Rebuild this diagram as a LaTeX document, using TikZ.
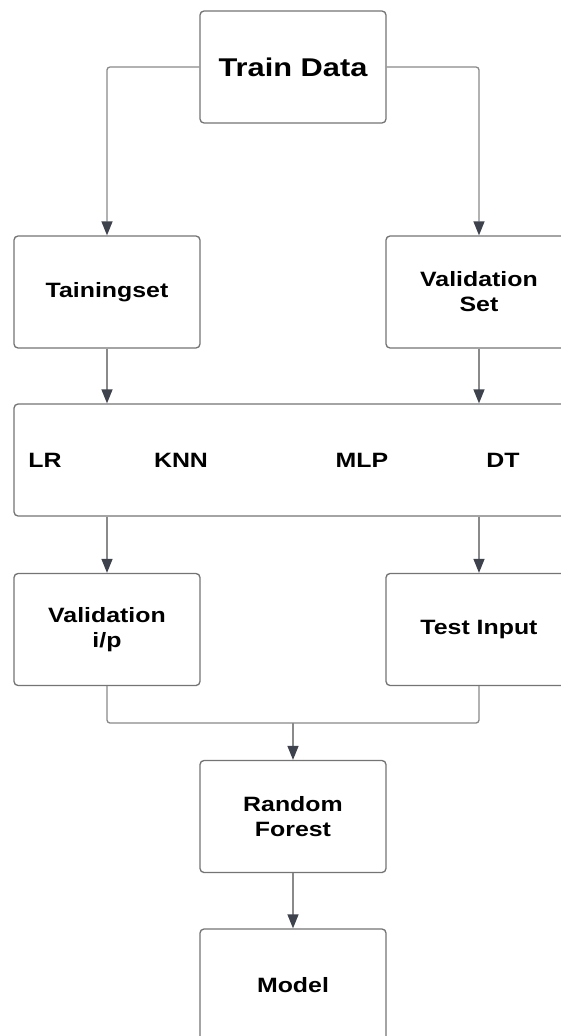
\documentclass[tikz,border=0pt]{standalone}
\usepackage{fontspec}
\setmainfont{Liberation Sans}[FakeStretch=1.2]
\usetikzlibrary{arrows.meta,positioning}
\definecolor{edgegray}{HTML}{8A8A8A}
\definecolor{boxgray}{HTML}{747474}
\definecolor{tipgray}{HTML}{3E424C}

\begin{document}
\begin{tikzpicture}[x=0.02cm,y=-0.02cm,
    box/.style={draw=boxgray,line width=0.75pt,rounded corners=0.08cm,minimum width=3.72cm,minimum height=2.24cm,align=center,font=\fontsize{11.8}{14.2}\selectfont\bfseries},
    lbl/.style={font=\fontsize{11.8}{14}\selectfont\bfseries},
    pipe/.style={draw=edgegray,line width=0.75pt,rounded corners=0.06cm},
    link/.style={pipe,-{Triangle[width=0.22cm,length=0.28cm,color=tipgray]}}]
        \clip (0,0) rectangle (561,1036);
        \fill[white] (0,0) rectangle (561,1036);

        \coordinate (A) at (293,67);
        \coordinate (B) at (107,292);
        \coordinate (C) at (479,292);
        \coordinate (D) at (307,460);
        \coordinate (E) at (107,629.5);
        \coordinate (F) at (479,629.5);
        \coordinate (G) at (293,816.5);
        \coordinate (H) at (293,985);
        \coordinate (J) at (293,723);

        \node[box,font=\fontsize{14.6}{17}\selectfont\bfseries] (train) at (A) {Train Data};
        \node[box] (tain) at (B) {Tainingset};
        \node[box] (vset) at (C) {Validation\\Set};
        \node[box,minimum width=11.72cm] (algos) at (D) {};
        \node[box] (vip) at (E) {Validation\\i/p};
        \node[box] (test) at (F) {Test Input};
        \node[box] (rf) at (G) {Random\\Forest};
        \node[box] (model) at (H) {Model};

        %############################################

        \node[lbl] (lr) at (45,460) {LR};
        \node[lbl] (knn) at (181,460) {KNN};
        \node[lbl] (mlp) at (362,460) {MLP};
        \node[lbl] (dt) at (503,460) {DT};

        %############################################

        \draw[link] (train.west) -| (tain.north);
        \draw[link] (train.east) -| (vset.north);

        \draw[link] (tain.south) -- (tain.south |- algos.north);
        \draw[link] (vset.south) -- (vset.south |- algos.north);

        \draw[link] (vip.north |- algos.south) -- (vip.north);
        \draw[link] (test.north |- algos.south) -- (test.north);

        \draw[pipe] (vip.south) |- (J);
        \draw[pipe] (test.south) |- (J);
        \draw[link] (J) -- (rf.north);

        \draw[link] (rf.south) -- (model.north);
\end{tikzpicture}
\end{document}
